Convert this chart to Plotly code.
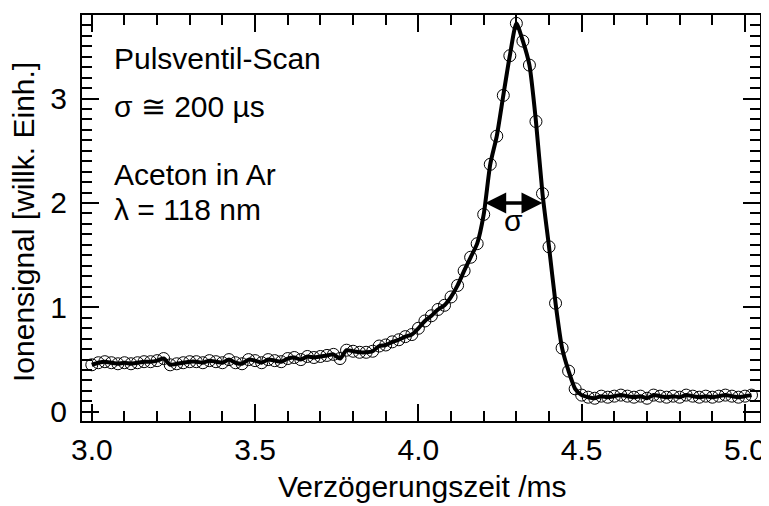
import plotly.graph_objects as go

# Delay times (ms)
delay_ms = [3.00, 3.02, 3.04, 3.06, 3.08, 3.10, 3.12, 3.14, 3.16, 3.18,
            3.20, 3.22, 3.24, 3.26, 3.28, 3.30, 3.32, 3.34, 3.36, 3.38,
            3.40, 3.42, 3.44, 3.46, 3.48, 3.50, 3.52, 3.54, 3.56, 3.58,
            3.60, 3.62, 3.64, 3.66, 3.68, 3.70, 3.72, 3.74, 3.76, 3.78,
            3.80, 3.82, 3.84, 3.86, 3.88, 3.90, 3.92, 3.94, 3.96, 3.98,
            4.00, 4.02, 4.04, 4.06, 4.08, 4.10, 4.12, 4.14, 4.16, 4.18,
            4.20, 4.22, 4.24, 4.26, 4.28, 4.30, 4.32, 4.34, 4.36, 4.38,
            4.40, 4.42, 4.44, 4.46, 4.48, 4.50, 4.52, 4.54, 4.56, 4.58,
            4.60, 4.62, 4.64, 4.66, 4.68, 4.70, 4.72, 4.74, 4.76, 4.78,
            4.80, 4.82, 4.84, 4.86, 4.88, 4.90, 4.92, 4.94, 4.96, 4.98,
            5.00, 5.02]

# Ion signal (arb. units)
ion_signal = [0.45, 0.47, 0.48, 0.47, 0.46, 0.47, 0.46, 0.47, 0.48, 0.48,
              0.49, 0.51, 0.45, 0.46, 0.47, 0.48, 0.48, 0.47, 0.49, 0.48,
              0.47, 0.50, 0.47, 0.46, 0.50, 0.49, 0.47, 0.50, 0.49, 0.48,
              0.51, 0.52, 0.50, 0.53, 0.52, 0.53, 0.54, 0.55, 0.51, 0.59,
              0.58, 0.57, 0.57, 0.58, 0.63, 0.64, 0.67, 0.69, 0.72, 0.74,
              0.80, 0.87, 0.92, 0.98, 1.02, 1.10, 1.21, 1.35, 1.48, 1.61,
              1.89, 2.37, 2.64, 3.03, 3.41, 3.72, 3.55, 3.32, 2.78, 2.09,
              1.58, 1.04, 0.61, 0.39, 0.22, 0.16, 0.14, 0.13, 0.15, 0.14,
              0.15, 0.16, 0.15, 0.14, 0.15, 0.13, 0.16, 0.15, 0.14, 0.15,
              0.14, 0.16, 0.15, 0.14, 0.15, 0.14, 0.15, 0.16, 0.15, 0.14,
              0.15, 0.16]

x_ticks = [3.0, 3.5, 4.0, 4.5, 5.0]
x_tick_labels = ["3.0", "3.5", "4.0", "4.5", "5.0"]
y_ticks = [0, 1, 2, 3]
y_tick_labels = ["0", "1", "2", "3"]

sigma_left = 4.20
sigma_right = 4.38
sigma_level = 2.0

FONT = "Liberation Sans, Arial, sans-serif"
FS = 30

W, H = 769, 506
OFF = 8  # page body margin offset
# plot box in screen pixels: left 82, right 760, top 15, bottom 421
L = 82 - OFF
T = 15 - OFF
R = W - (760 - OFF)
B = H - (421 - OFF)
pw, ph = W - L - R, H - T - B


def px_x(p):
    return (p - OFF - L) / pw


def px_y(p):
    return (H - (p - OFF) - B) / ph


fig = go.Figure()
fig.add_trace(go.Scatter(
    x=delay_ms, y=ion_signal, mode="lines",
    line=dict(color="black", width=4, shape="spline", smoothing=0.6),
    showlegend=False, hoverinfo="skip"))
fig.add_trace(go.Scatter(
    x=delay_ms, y=ion_signal, mode="markers",
    marker=dict(symbol="circle-open", size=12, color="black",
                line=dict(color="black", width=1)),
    showlegend=False))

# sigma double arrow
fig.add_annotation(x=sigma_right, y=sigma_level, ax=sigma_left, ay=sigma_level,
                   xref="x", yref="y", axref="x", ayref="y",
                   text="", showarrow=True, arrowhead=2, arrowside="end+start",
                   arrowsize=1.2, arrowwidth=3.5, arrowcolor="black",
                   standoff=0, startstandoff=0)
fig.add_annotation(x=(sigma_left + sigma_right) / 2, y=sigma_level, yshift=-18,
                   xref="x", yref="y", text="σ", showarrow=False,
                   font=dict(family=FONT, size=FS, color="black"))

texts = [("Pulsventil-Scan", 59), ("σ ≅ 200 µs", 106),
         ("Aceton in Ar", 174), ("λ = 118 nm", 209)]
for t, ypix in texts:
    fig.add_annotation(x=px_x(112), y=px_y(ypix), xref="paper", yref="paper",
                       text=t, showarrow=False, xanchor="left", yanchor="middle",
                       font=dict(family=FONT, size=FS, color="black"))

# axis titles
fig.add_annotation(x=px_x(422), y=px_y(487), xref="paper", yref="paper",
                   text="Verzögerungszeit /ms", showarrow=False,
                   xanchor="center", yanchor="middle",
                   font=dict(family=FONT, size=FS, color="black"))
fig.add_annotation(x=px_x(23), y=px_y(222), xref="paper", yref="paper",
                   text="Ionensignal [willk. Einh.]", showarrow=False, textangle=-90,
                   xanchor="center", yanchor="middle",
                   font=dict(family=FONT, size=FS, color="black"))

axis_common = dict(
    showline=True, linewidth=2, linecolor="black", mirror="ticks",
    ticks="inside", ticklen=17, tickwidth=2, tickcolor="black",
    showgrid=False, zeroline=False, automargin=False,
    tickfont=dict(family=FONT, size=FS, color="black"),
)

fig.update_xaxes(
    range=[2.97, 5.046], tickvals=x_ticks, ticktext=x_tick_labels,
    minor=dict(ticks="inside", ticklen=10, tickwidth=2, dtick=0.1, tick0=3.0,
               tickcolor="black", showgrid=False),
    ticklabelstandoff=1,
    **axis_common)
fig.update_yaxes(
    range=[-0.088, 3.80], tickvals=y_ticks, ticktext=y_tick_labels,
    minor=dict(ticks="inside", ticklen=10, tickwidth=2, dtick=0.1, tick0=0,
               tickcolor="black", showgrid=False),
    ticklabelstandoff=7,
    **axis_common)

fig.update_layout(
    width=W, height=H,
    margin=dict(l=L, r=R, t=T, b=B, autoexpand=False),
    paper_bgcolor="white", plot_bgcolor="white",
    font=dict(family=FONT, size=FS, color="black"),
)

fig.write_html("out.html")
